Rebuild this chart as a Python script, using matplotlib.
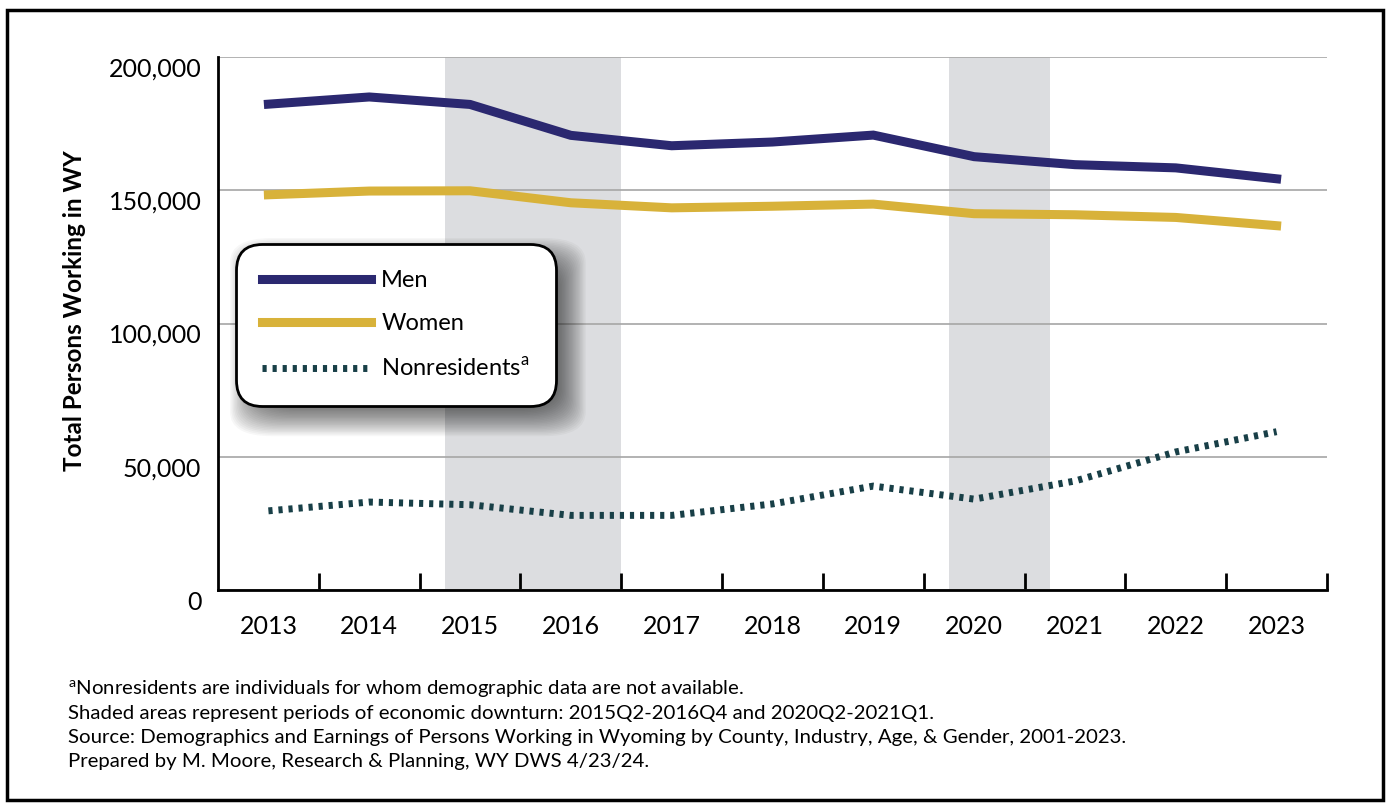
import matplotlib
matplotlib.use("Agg")
import matplotlib.pyplot as plt
import matplotlib.transforms as mtransforms
from matplotlib.patches import FancyBboxPatch, Rectangle
from matplotlib.ticker import FuncFormatter, FixedLocator

plt.rcParams['font.family'] = ['Lato', 'DejaVu Sans']
plt.rcParams['mathtext.fontset'] = 'custom'
plt.rcParams['mathtext.rm'] = 'Lato'

# data
years = ['2013', '2014', '2015', '2016', '2017', '2018',
         '2019', '2020', '2021', '2022', '2023']
men = [182300, 185000, 182200, 170600, 166700, 168100,
       170700, 162600, 159600, 158400, 154300]
women = [148300, 149700, 149800, 145300, 143400, 144000,
         144800, 141200, 140800, 139800, 136700]
nonres = [29700, 33000, 32000, 28000, 28000, 32300,
          39000, 34100, 40900, 51800, 59400]
# downturn periods, in years (quarter start/end)
downturns = [(2015.25, 2017.0), (2020.25, 2021.25)]

fig = plt.figure(figsize=(13.9, 8.1), dpi=100)
ax = fig.add_axes([218 / 1390, 1 - 590 / 810, 1109 / 1390, 533 / 810])

x = list(range(len(years)))
first = int(years[0])
for start, end in downturns:
    # category i spans [i-0.5, i+0.5]
    ax.axvspan(start - first - 0.5, end - first - 0.5, color='#dcdde0', lw=0, zorder=0)

ax.set_ylim(0, 200000)
ax.set_xlim(-0.5, len(years) - 0.5)
ax.set_yticks([0, 50000, 100000, 150000, 200000])
ax.yaxis.set_major_formatter(FuncFormatter(lambda v, p: f'{int(v):,}'))
ax.grid(axis='y', color='#a6a6a6', lw=1.2, zorder=1)
ax.set_axisbelow(True)

l1, = ax.plot(x, men, color='#2b2870', lw=6.5, solid_joinstyle='miter', zorder=3, label='Men')
l2, = ax.plot(x, women, color='#d8b23a', lw=6.5, solid_joinstyle='miter', zorder=3, label='Women')
l3, = ax.plot(x, nonres, color='#183f47', lw=5, dashes=(0.6, 0.85), dash_capstyle='butt',
              zorder=3, label='Nonresidents$^{\\mathrm{a}}$')

for s in ['top', 'right']:
    ax.spines[s].set_visible(False)
for s in ['left', 'bottom']:
    ax.spines[s].set_color('black')
    ax.spines[s].set_linewidth(2)

ax.set_xticks(x)
ax.set_xticklabels(years)
ax.xaxis.set_minor_locator(FixedLocator([i + 0.5 for i in x]))
ax.tick_params(axis='x', which='major', length=0, pad=18, labelsize=18)
ax.tick_params(axis='x', which='minor', direction='in', length=12, width=2, color='black')
ax.tick_params(axis='y', length=0, pad=12, labelsize=18)
# value labels sit a little below their gridlines in the original
shift = mtransforms.ScaledTranslation(0, -10 / 100, fig.dpi_scale_trans)
for lab in ax.get_yticklabels():
    lab.set_transform(lab.get_transform() + shift)

fig.text(75 / 1390, 1 - 311 / 810, 'Total Persons Working in WY', rotation=90,
         ha='center', va='center', fontsize=17.5, fontweight='bold')

leg = ax.legend(handles=[l1, l2, l3], loc='upper left',
                bbox_to_anchor=(236 / 1390, 1 - 244 / 810), bbox_transform=fig.transFigure,
                fontsize=17, handlelength=4.6, handletextpad=0.45, labelspacing=0.95,
                borderpad=1.1, borderaxespad=0, frameon=True, fancybox=True)
frame = leg.get_frame()
frame.set_edgecolor('black')
frame.set_linewidth(2)
frame.set_facecolor('white')
frame.set_alpha(1)
frame.set_boxstyle('round,pad=0,rounding_size=1.1')
leg.set_zorder(10)

# soft drop shadow behind the legend box
fig.canvas.draw()
bb = leg.get_window_extent()
W, H = fig.bbox.width, fig.bbox.height
for k in range(20):
    grow = 18 - 1.4 * k
    sh = FancyBboxPatch(((bb.x0 + 12 - grow) / W, (bb.y0 - 12 - grow) / H),
                        (bb.width + 2 * grow) / W, (bb.height + 2 * grow) / H,
                        boxstyle='round,pad=0,rounding_size=0.03',
                        transform=fig.transFigure, fc='black', ec='none',
                        alpha=0.03, zorder=5)
    ax.add_artist(sh)
    sh.set_clip_on(False)

notes = ['$^{\\mathrm{a}}$Nonresidents are individuals for whom demographic data are not available.',
         'Shaded areas represent periods of economic downturn: 2015Q2-2016Q4 and 2020Q2-2021Q1.',
         'Source: Demographics and Earnings of Persons Working in Wyoming by County, Industry, Age, & Gender, 2001-2023.',
         'Prepared by M. Moore, Research & Planning, WY DWS 4/23/24.']
for i, t in enumerate(notes):
    fig.text(68 / 1390, 1 - (689 + 24 * i) / 810, t, ha='left', va='center', fontsize=14.7)

fig.patches.append(Rectangle((7 / 1390, 10 / 810), 1376 / 1390, 790 / 810,
                             transform=fig.transFigure, fill=False, ec='black', lw=2.5))

fig.savefig('out.png', dpi=100)
